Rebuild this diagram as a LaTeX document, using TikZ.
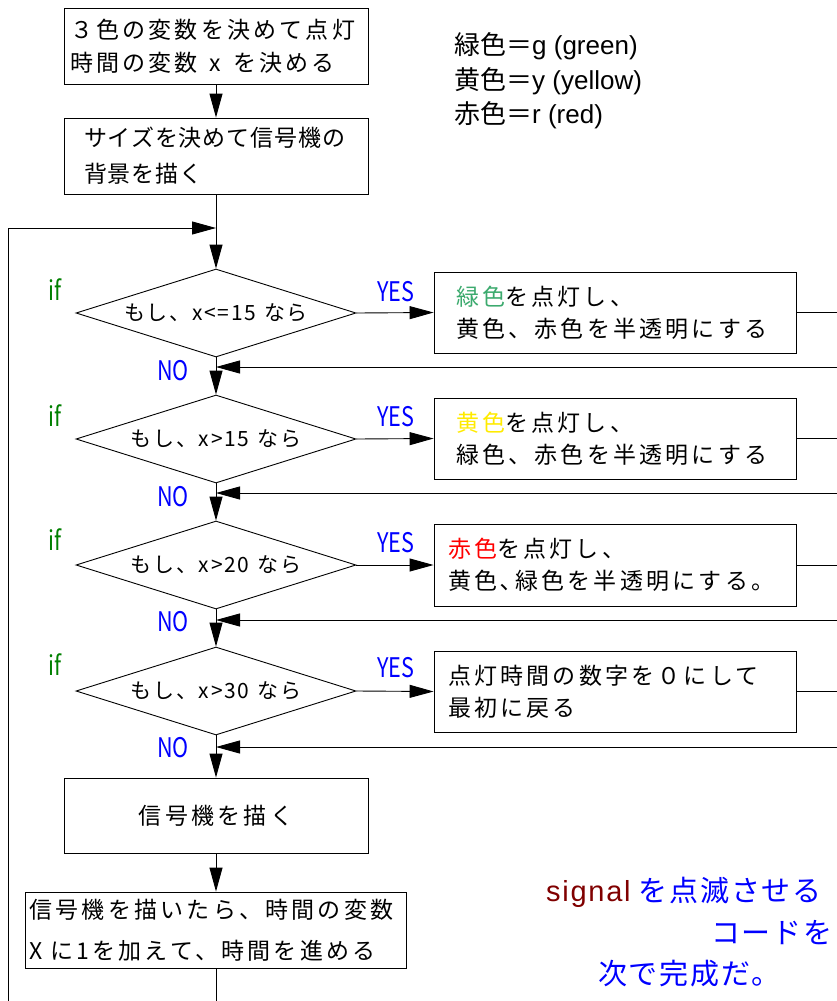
\documentclass[tikz,border=0pt]{standalone}
\usepackage{fontspec}
\usepackage{graphicx}
\setmainfont{Noto Sans CJK JP}
\newfontfamily\arialf{Liberation Sans}
\usetikzlibrary{arrows.meta,shapes.geometric}
\definecolor{ifgreen}{RGB}{0,128,0}
\definecolor{lgreen}{RGB}{60,170,110}
\definecolor{lyellow}{RGB}{255,235,0}
\definecolor{darkred}{RGB}{128,0,0}
\newcommand\boxfont{\fontsize{23}{32}\selectfont\addfontfeature{LetterSpace=14}}
\newcommand\diafont{\fontsize{21}{26}\selectfont\addfontfeature{LetterSpace=8}}
\newcommand\lblfont{\fontsize{27}{30}\selectfont}
\newcommand\legfont{\fontsize{26}{34}\selectfont}
\newcommand\closefont{\fontsize{29}{34}\selectfont\addfontfeature{LetterSpace=6}}
\newcommand\cnd[1]{\scalebox{0.8}[1]{#1}}
\tikzset{
  box/.style={draw, line width=0.9pt, inner sep=0pt, align=left, font=\boxfont},
  dia/.style={diamond, draw, line width=0.9pt, aspect=3.18, minimum width=280pt, minimum height=88pt, inner sep=0pt, font=\diafont},
  arr/.style={-{Triangle[length=24pt,width=13pt]}, line width=0.9pt},
  ln/.style={line width=0.9pt},
  yeslbl/.style={text=blue, font=\lblfont, inner sep=0pt},
  iflbl/.style={text=ifgreen, font=\lblfont, inner sep=0pt},
  leg/.style={anchor=west, inner sep=0pt, font=\legfont},
  endtxt/.style={anchor=west, inner sep=0pt, font=\closefont, text=blue}
}
\begin{document}
\begin{tikzpicture}[x=1pt,y=-1pt]
\useasboundingbox (0,0) rectangle (837,1001);
\clip (0,0) rectangle (837,1001);
\fill[white] (0,0) rectangle (837,1001);

% main column
\node[box, minimum width=304pt, minimum height=76pt, text width=292pt, font={\fontsize{23}{33}\selectfont\addfontfeature{LetterSpace=14}}] (b1) at (216,46) {３色の変数を決めて点灯\\時間の変数\hspace{12pt}x\hspace{12pt}を決める};
\node[box, minimum width=304pt, minimum height=76pt, text width=264pt, font={\fontsize{23}{36}\selectfont\addfontfeature{LetterSpace=4}}] (b2) at (216,156) {サイズを決めて信号機の\\背景を描く};

\node[dia] (d1) at (216,313) {もし、x<=15\hspace{8pt}なら};
\node[dia] (d2) at (216,439) {もし、x>15\hspace{8pt}なら};
\node[dia] (d3) at (216,565) {もし、x>20\hspace{8pt}なら};
\node[dia] (d4) at (216,691) {もし、x>30\hspace{8pt}なら};

\node[box, minimum width=362pt, minimum height=81pt, text width=318pt] (y1) at (615,312.5) {{\color{lgreen}緑色}を点灯し、\\黄色、赤色を半透明にする};
\node[box, minimum width=362pt, minimum height=81pt, text width=318pt] (y2) at (615,438.5) {{\color{lyellow}黄色}を点灯し、\\緑色、赤色を半透明にする};
\node[box, minimum width=362pt, minimum height=82pt, text width=334pt] (y3) at (615,565) {{\color{red}赤色}を点灯し、\\黄色､緑色を半透明にする。};
\node[box, minimum width=362pt, minimum height=81pt, text width=334pt] (y4) at (615,691.5) {点灯時間の数字を０にして\\最初に戻る};

\node[box, minimum width=304pt, minimum height=75pt, align=center] (b3) at (216,815.5) {信号機を描く};
\node[box, minimum width=381pt, minimum height=76pt, text width=373pt, font={\fontsize{23}{41}\selectfont\addfontfeature{LetterSpace=14}}] (b4) at (216,930) {信号機を描いたら、時間の変数\\X に1を加えて、時間を進める};

% labels
\node[iflbl] (if1) at (55,290) {\cnd{if}};
\node[iflbl] (if2) at (55,416) {\cnd{if}};
\node[iflbl] (if3) at (55,540) {\cnd{if}};
\node[iflbl] (if4) at (55,665) {\cnd{if}};
\node[yeslbl] (ys1) at (396,292) {\cnd{YES}};
\node[yeslbl] (ys2) at (396,417) {\cnd{YES}};
\node[yeslbl] (ys3) at (396,543) {\cnd{YES}};
\node[yeslbl] (ys4) at (396,668) {\cnd{YES}};
\node[yeslbl] (no1) at (173,371) {\cnd{NO}};
\node[yeslbl] (no2) at (173,497) {\cnd{NO}};
\node[yeslbl] (no3) at (173,622) {\cnd{NO}};
\node[yeslbl] (no4) at (173,748) {\cnd{NO}};

% legend
\node[leg] (g1) at (454,46) {緑色＝{\arialf g (green)}};
\node[leg] (g2) at (454,81) {黄色＝{\arialf y (yellow)}};
\node[leg] (g3) at (454,115) {赤色＝{\arialf r (red)}};

% closing text
\node[endtxt] (t1) at (546,892) {{\arialf\addfontfeature{LetterSpace=6}\color{darkred}signal} を点滅させる};
\node[endtxt] (t2) at (711,933) {コードを};
\node[endtxt] (t3) at (598,974) {次で完成だ。};

% coordinates
\coordinate (lb) at (8,1001);
\coordinate (lt) at (8,228);
\coordinate (bot) at (216,1001);
\coordinate (e1) at (837,312.5);
\coordinate (e2) at (837,438.5);
\coordinate (e3) at (837,565);
\coordinate (e4) at (837,691.5);
\coordinate (r1) at (837,367);
\coordinate (r2) at (837,493);
\coordinate (r3) at (837,620);
\coordinate (r4) at (837,747);

% connectors
\draw[arr] (b1) -- (b2);
\draw[arr] (b2) -- (d1);
\draw[arr] (lb) -- (lt) -- (lt -| d1.north);
\draw[arr] (d1) -- (d2);
\draw[arr] (d2) -- (d3);
\draw[arr] (d3) -- (d4);
\draw[arr] (d4) -- (b3);
\draw[arr] (b3) -- (b4);
\draw[ln] (b4) -- (bot);
\foreach \i in {1,2,3,4}{
  \draw[arr] (d\i.east) -- (y\i.west);
  \draw[ln] (y\i.east) -- (e\i);
  \draw[arr] (r\i) -- (r\i -| d\i.south);
}
\end{tikzpicture}
\end{document}
